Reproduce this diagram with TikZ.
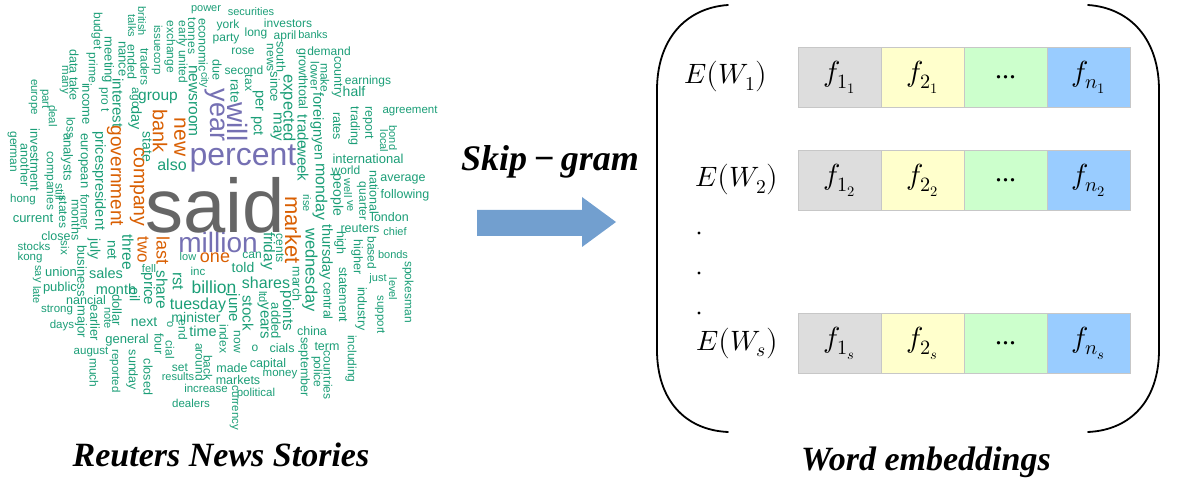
\documentclass[tikz,border=0pt]{standalone}
\usepackage{fontspec}
\usepackage{unicode-math}
\setmathfont{Latin Modern Math}
\newfontfamily\cloudfont{Liberation Sans}
\newfontfamily\capfont{Liberation Serif}
\definecolor{cloudgreen}{HTML}{1B9E77}
\definecolor{cloudorange}{HTML}{D95F02}
\definecolor{cloudpurple}{HTML}{7570B3}
\definecolor{cloudgray}{HTML}{666666}
\definecolor{cellgray}{HTML}{DDDDDD}
\definecolor{cellyellow}{HTML}{FFFFCC}
\definecolor{cellgreen}{HTML}{CCFFCC}
\definecolor{cellblue}{HTML}{99CCFF}
\definecolor{arrowblue}{RGB}{114,159,207}

\begin{document}
\begin{tikzpicture}[x=1pt, y=-1pt, line cap=round,
  wd/.style={font={\cloudfont\fontsize{#1}{#1}\selectfont}, inner sep=0pt},
  vwd/.style={wd=#1, rotate=-90},
  cell/.style={draw=black!22, minimum width=83pt, minimum height=60pt, inner sep=0pt,
    font=\fontsize{29}{32}\selectfont},
  lab/.style={inner sep=0pt, font=\fontsize{28}{32}\selectfont},
  caption/.style={inner sep=0pt, font={\capfont\bfseries\itshape\fontsize{34}{40}\selectfont}}]
\useasboundingbox (0,0) rectangle (1183,486);
% 词云：绿色横排
\foreach \w/\x/\y/\s [count=\i] in {power/206/10/11, securities/251/12/11, york/228/25/12,
  investors/288/23/12, party/226/39/12, long/256/33/12, april/285/36/12, banks/313/35/11,
  rose/243/51/12, demand/329/51/12, second/244/70/12, earnings/368/81/12, half/354/91/14,
  agreement/410/111/11.5, international/368/159/13, world/346/170/12, average/403/179/12.5,
  following/405/195/12.5, london/390/217/12.5, reuters/360/229/12.5, chief/395/232/11,
  bonds/393/255/11, just/378/279/11, china/312/331/12.5, term/327/347/12.5,
  capital/268/364/12.5, money/280/375/11.5, made/232/368/12.5, markets/238/380/12.5,
  political/256/394/11.5, increase/206/388/11.5, dealers/191/403/11.5, results/178/377/11,
  set/180/368/12, o/255/348/12, cials/282/348/12.5, can/252/255/12, inc/198/271/11.5,
  low/188/257/11, fell/149/269/11, general/127/340/13, august/91/352/11.5,
  nancial/86/300/12.5, strong/57/310/11.5, days/62/326/11.5, public/60/288/13,
  union/61/272/13, kong/30/258/11.5, stocks/34/246/11.5, close/56/236/12.5,
  current/33/218/13, hong/23/200/11.5, group/158/98/15.5, also/172/165/16,
  sales/106/273/14.5, month/116/289/14.5, next/144/322/14, minister/196/317/14,
  time/203/331/14.5, tuesday/198/305/16, billion/214/287/17.5, told/243/267/14,
  shares/266/283/16} {
  \node[wd=\s, text=cloudgreen] (gh\i) at (\x,\y) {\w};
}
% 词云：绿色竖排
\foreach \w/\x/\y/\s [count=\i] in {british/142/21/11, talks/132/26/11, traders/145/67/12,
  issuecorp/157/50/11.5, exchange/170/47/12, early united/182/52/12, tonnes/192/36/12,
  newsroom/193/101/15.5, economic/203/45/12.5, city/204/80/10.5, budget/97/31/12,
  meeting/108/60/13, nance/122/59/13, ended/132/62/12.5, prime/92/68/12, income/87/104/13,
  data take/74/75/12.5, many/64/80/11.5, europe/33/97/11.5, part/45/99/11.5,
  deal/53/116/11.5, pro t/104/100/12, interest/118/103/15, ago/134/98/12, day/135/118/14.5,
  state/147/147/14, loss/71/128/12, analysts/67/157/13, still/60/192/12, states/63/212/12,
  pricespresident/99/181/14.5, european/83/161/13, former/85/212/12, months/76/220/12.5,
  investment/35/160/13, another/25/165/12.5, german/12/152/12, companies/50/181/12,
  six/65/248/11.5, say/37/274/11, late/37/295/11, july/94/249/14, net/112/250/14,
  three/128/252/15.5, business/82/271/13, dollar/117/310/13, note/108/318/11,
  earlier/95/323/13, major/81/322/13, oil/135/295/14, price/148/289/15, share/162/290/15.5,
  rst/178/281/16, four/159/344/12.5, o/170/325/11, cial/170/350/12, end/183/330/12,
  much/94/373/12, reported/115/371/11.5, sunday/132/370/12.5, closed/148/377/12.5,
  around/200/362/12, back/208/368/12, currency/234/408/11.5, index/224/339/12,
  now/237/342/12, june/233/308/15, stock/248/313/15, ltd/263/297/11, years/263/321/15,
  added/276/321/13, points/287/311/15, friday/268/251/15.5, cents/280/248/12,
  march/297/284/12.5, september/304/367/12.5, police/317/372/12, countries/328/375/12,
  including/351/359/12, wednesday/310/270/16.5, central/328/301/12.5, thursday/326/252/14.5,
  statement/343/295/12.5, high/340/243/12.5, industry/361/309/12.5, higher/357/257/12.5,
  based/372/253/12, level/393/289/11, spokesman/408/292/12, support/380/315/11.5,
  rise/307/203/11, monday/320/192/16, people/337/195/14, well/348/188/11, ve/350/206/11,
  quarter/362/201/12, national/374/192/12.5, bond/393/138/11, local/384/141/11,
  report/368/123/12.5, trading/354/126/12.5, rates/337/126/12.5, country/337/77/12.5,
  make/325/78/12, lower/315/76/12, foreign/317/115/14.5, yen/317/149/14, trade/303/132/15,
  week/303/164/15, growthtotal/302/79/12.5, news/270/58/12, south/281/57/12.5,
  due/217/70/12.5, tax/249/83/12, rate/235/91/13.5, per/258/101/14.5, pct/257/126/14.5,
  since/275/87/13, may/276/127/15, expected/288/108/16.5} {
  \node[vwd=\s, text=cloudgreen] (gv\i) at (\x,\y) {\w};
}
% 词云：橙色与紫色的高频词
\foreach \w/\x/\y/\s [count=\i] in {bank/160/131/20, new/180/137/21, government/115/176/19,
  company/137/187/19.5, two/143/250/17, last/163/251/18, market/293/230/22} {
  \node[vwd=\s, text=cloudorange] (ov\i) at (\x,\y) {\w};
}
\node[wd=18, text=cloudorange] (one) at (215,258) {one};
\node[vwd=27, text=cloudpurple] (year) at (215,115) {year};
\node[vwd=28, text=cloudpurple] (will) at (238,122) {will};
\node[wd=32, text=cloudpurple] (percent) at (243,158) {percent};
\node[wd=28, text=cloudpurple] (million) at (218,242) {million};
\node[wd=76, text=cloudgray] (said) at (215,205) {said};
\node[caption] (reuters) at (221,455) {Reuters News Stories};
% Skip-gram 箭头
\node[caption, font={\capfont\bfseries\itshape\fontsize{36}{40}\selectfont}] (skip) at (550,162) {Skip\,−\,gram};
\fill[arrowblue] (477,210) -- (582,210) -- (582,197) -- (616,222) -- (582,247)
  -- (582,236) -- (477,236) -- cycle;
% 词向量矩阵
\foreach \r/\lx/\y in {1/726/77, 2/737/180, s/737/343} {
  \node[lab] (e\r) at (\lx,\y) {$E\bigl(W_{\r}\bigr)$};
  \node[cell, fill=cellgray] (c\r-1) at (839.5,\y) {$f_{1_{\r}}$};
  \node[cell, fill=cellyellow] (c\r-2) at (922.5,\y) {$f_{2_{\r}}$};
  \node[cell, fill=cellgreen, font={\capfont\fontsize{28}{30}\selectfont}] (c\r-3) at (1005.5,\y) {...};
  \node[cell, fill=cellblue] (c\r-4) at (1088.5,\y) {$f_{n_{\r}}$};
}
\foreach \y in {233,273,313} {
  \fill (699,\y) circle[radius=1.7];
}
% 左右括号
\draw[line width=1.8pt] (728,5) .. controls (685,8) and (657,40) .. (657,90) -- (657,350)
  .. controls (657,400) and (685,430) .. (728,432);
\draw[line width=1.8pt] (1088,5) .. controls (1131,8) and (1159,40) .. (1159,90) -- (1159,350)
  .. controls (1159,400) and (1131,430) .. (1088,432);
\node[caption] (embed) at (926,462) {Word embeddings};
\end{tikzpicture}
\end{document}
